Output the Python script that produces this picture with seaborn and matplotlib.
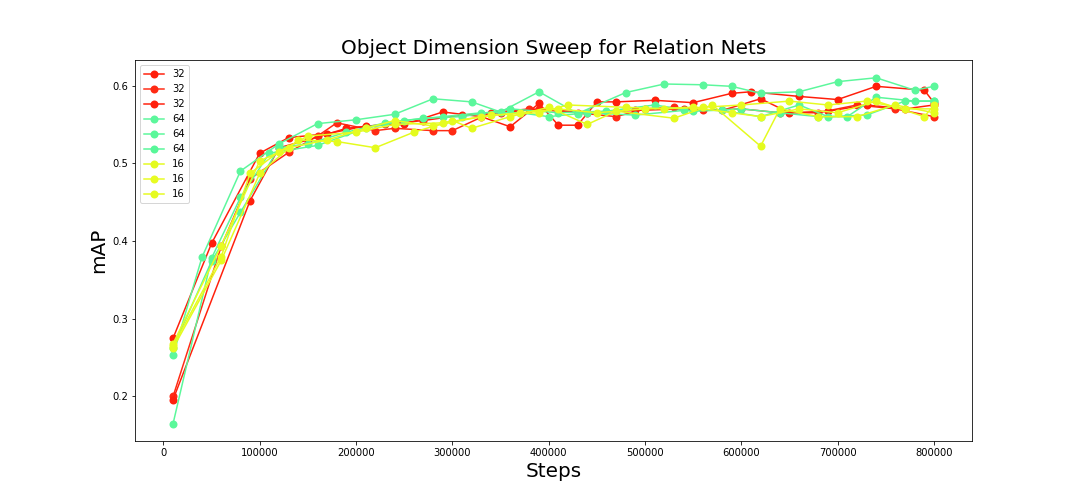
import matplotlib
matplotlib.use("Agg")
import matplotlib.pyplot as plt
import seaborn as sns
import pandas as pd

# ---- data ----
r1_steps = [10000, 50000, 100000, 130000, 170000, 210000, 250000, 290000, 330000, 360000, 390000, 410000, 430000, 450000, 470000, 510000, 550000, 590000, 610000, 660000, 700000, 740000, 790000, 800000]
r1_map = [0.275, 0.397, 0.513, 0.533, 0.538, 0.548, 0.550, 0.566, 0.560, 0.547, 0.577, 0.549, 0.549, 0.579, 0.579, 0.581, 0.578, 0.590, 0.592, 0.586, 0.582, 0.599, 0.594, 0.578]

r2_steps = [10000, 60000, 90000, 130000, 160000, 180000, 220000, 240000, 280000, 300000, 340000, 380000, 430000, 470000, 500000, 530000, 560000, 600000, 640000, 680000, 720000, 760000, 800000]
r2_map = [0.200, 0.393, 0.480, 0.514, 0.535, 0.552, 0.542, 0.545, 0.542, 0.542, 0.565, 0.570, 0.565, 0.560, 0.570, 0.572, 0.568, 0.570, 0.565, 0.565, 0.575, 0.570, 0.560]

r3_steps = [10000, 90000, 120000, 150000, 190000, 230000, 270000, 310000, 350000, 390000, 440000, 490000, 540000, 580000, 620000, 650000, 690000, 730000, 770000, 800000]
r3_map = [0.196, 0.452, 0.520, 0.530, 0.545, 0.550, 0.555, 0.562, 0.565, 0.570, 0.565, 0.568, 0.570, 0.568, 0.583, 0.565, 0.567, 0.575, 0.570, 0.575]

g1_steps = [10000, 40000, 80000, 120000, 160000, 200000, 240000, 280000, 320000, 350000, 390000, 430000, 480000, 520000, 560000, 590000, 620000, 660000, 700000, 740000, 780000, 800000]
g1_map = [0.253, 0.379, 0.490, 0.525, 0.551, 0.556, 0.563, 0.583, 0.579, 0.566, 0.592, 0.564, 0.591, 0.602, 0.601, 0.599, 0.590, 0.592, 0.605, 0.610, 0.594, 0.599]

g2_steps = [10000, 50000, 80000, 110000, 160000, 210000, 250000, 290000, 330000, 370000, 400000, 440000, 490000, 540000, 580000, 620000, 660000, 690000, 730000, 770000, 800000]
g2_map = [0.165, 0.378, 0.456, 0.513, 0.523, 0.545, 0.555, 0.560, 0.565, 0.565, 0.560, 0.565, 0.562, 0.568, 0.568, 0.560, 0.575, 0.560, 0.562, 0.580, 0.580]

g3_steps = [10000, 50000, 80000, 120000, 150000, 190000, 230000, 270000, 310000, 360000, 410000, 460000, 510000, 550000, 600000, 640000, 680000, 710000, 740000, 780000, 800000]
g3_map = [0.263, 0.374, 0.437, 0.520, 0.525, 0.540, 0.552, 0.558, 0.560, 0.570, 0.565, 0.567, 0.575, 0.567, 0.570, 0.565, 0.560, 0.560, 0.585, 0.580, 0.580]

y1_steps = [10000, 60000, 100000, 140000, 180000, 220000, 260000, 300000, 320000, 360000, 400000, 440000, 470000, 530000, 570000, 620000, 640000, 680000, 720000, 760000, 800000]
y1_map = [0.262, 0.375, 0.487, 0.530, 0.528, 0.520, 0.540, 0.555, 0.545, 0.560, 0.572, 0.550, 0.567, 0.558, 0.575, 0.522, 0.570, 0.560, 0.560, 0.575, 0.565]

y2_steps = [10000, 60000, 100000, 130000, 170000, 210000, 240000, 280000, 330000, 370000, 410000, 450000, 500000, 550000, 590000, 620000, 660000, 700000, 740000, 790000, 800000]
y2_map = [0.268, 0.394, 0.503, 0.520, 0.530, 0.545, 0.555, 0.548, 0.560, 0.565, 0.570, 0.565, 0.570, 0.572, 0.565, 0.560, 0.570, 0.565, 0.580, 0.560, 0.575]

y3_steps = [10000, 60000, 90000, 120000, 150000, 200000, 240000, 290000, 340000, 390000, 420000, 480000, 520000, 560000, 600000, 650000, 690000, 730000, 770000, 800000]
y3_map = [0.265, 0.380, 0.487, 0.515, 0.535, 0.540, 0.550, 0.552, 0.562, 0.565, 0.575, 0.572, 0.570, 0.572, 0.575, 0.580, 0.575, 0.580, 0.570, 0.570]

series = [
    ("32", r1_steps, r1_map, "#ff1e0a"),
    ("32", r2_steps, r2_map, "#ff2a14"),
    ("32", r3_steps, r3_map, "#ff200c"),
    ("64", g1_steps, g1_map, "#5cf79c"),
    ("64", g2_steps, g2_map, "#5af89a"),
    ("64", g3_steps, g3_map, "#58f799"),
    ("16", y1_steps, y1_map, "#e4fb1e"),
    ("16", y2_steps, y2_map, "#e8fc22"),
    ("16", y3_steps, y3_map, "#e6fb20"),
]

fig, ax = plt.subplots(figsize=(15, 7), dpi=72)
fig.subplots_adjust(left=0.125, right=0.9, top=0.88, bottom=0.125)

for label, st, mp, col in series:
    df = pd.DataFrame({"Steps": st, "mAP": mp})
    sns.lineplot(data=df, x="Steps", y="mAP", ax=ax, color=col, marker="o",
                 markersize=8, markeredgewidth=0, linewidth=1.5, label=label,
                 sort=False, estimator=None)

ax.set_title("Object Dimension Sweep for Relation Nets", fontsize=20)
ax.set_xlabel("Steps", fontsize=20)
ax.set_ylabel("mAP", fontsize=20)
ax.set_xticks([0, 100000, 200000, 300000, 400000, 500000, 600000, 700000, 800000])
ax.set_xticklabels(["0", "100000", "200000", "300000", "400000", "500000", "600000", "700000", "800000"])
ax.set_yticks([0.2, 0.3, 0.4, 0.5, 0.6])
ax.tick_params(labelsize=10)
ax.legend(loc="upper left", fontsize=10)

fig.savefig("out.png", dpi=72)
